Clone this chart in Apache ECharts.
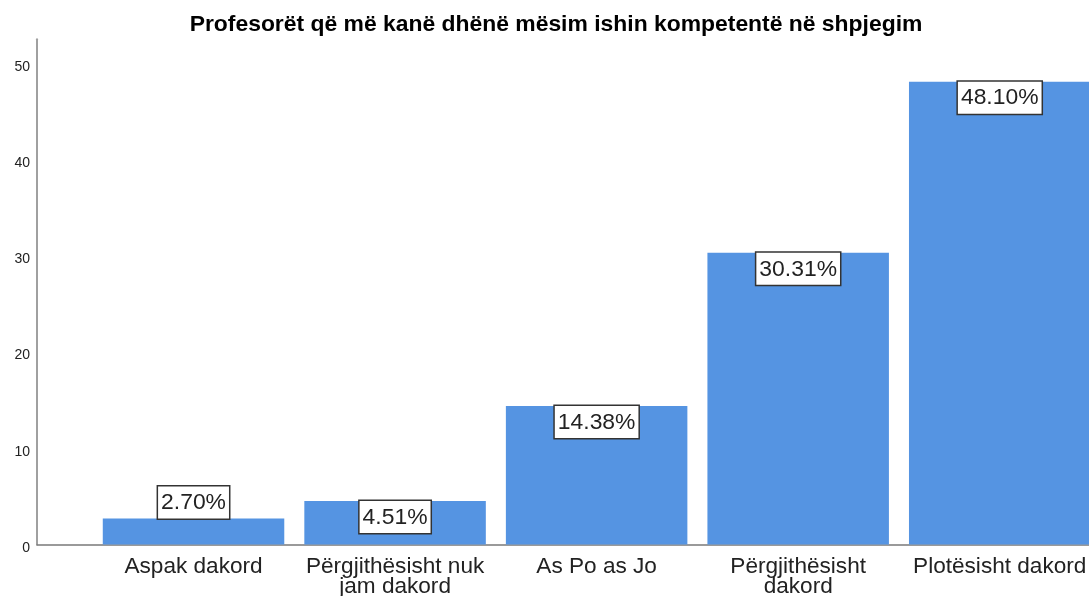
<!DOCTYPE html>
<html>
<head>
<meta charset="utf-8">
<script src="https://cdn.jsdelivr.net/npm/echarts@6/dist/echarts.min.js"></script>
<style>
html,body{margin:0;padding:0;background:#fff;}
#chart{width:1089px;height:596px;}
</style>
</head>
<body>
<div id="chart"></div>
<script>
const titleText = 'Profesorët që më kanë dhënë mësim ishin kompetentë në shpjegim';
const categories = ['Aspak dakord', 'Përgjithësisht nuk\njam dakord', 'As Po as Jo', 'Përgjithësisht\ndakord', 'Plotësisht dakord'];
const percentValues = [2.70, 4.51, 14.38, 30.31, 48.10];
const labelPositions = ['top', 'insideTop', 'insideTop', 'insideTop', 'insideTop'];

const FONT = "'Liberation Sans', Arial, sans-serif";
const yMax = 52.5;
const gridTop = 39.3, gridBottom = 51.5;

const chart = echarts.init(document.getElementById('chart'), null, {renderer: 'canvas'});
chart.setOption({
  backgroundColor: '#ffffff',
  animation: false,
  title: {
    text: titleText,
    left: 556,
    top: 13,
    padding: 0,
    textAlign: 'center',
    textStyle: {fontFamily: FONT, fontSize: 22.9, fontWeight: 'bold', color: '#000'}
  },
  grid: [
    {left: 92.75, width: 1007.75, top: gridTop, bottom: gridBottom, containLabel: false, outerBoundsMode: 'none'},
    {left: 37, right: 0, top: gridTop, bottom: gridBottom, containLabel: false, outerBoundsMode: 'none'}
  ],
  xAxis: [
    {
      type: 'category', gridIndex: 0, data: categories,
      axisLine: {show: false}, axisTick: {show: false},
      axisLabel: {fontFamily: FONT, fontSize: 22.6, color: '#222', lineHeight: 20, margin: 12, interval: 0}
    },
    {
      type: 'value', gridIndex: 1, min: 0, max: 1,
      axisLine: {show: true, lineStyle: {color: '#7a7a7a', width: 1.5}},
      axisTick: {show: false}, axisLabel: {show: false}, splitLine: {show: false}
    }
  ],
  yAxis: [
    {
      type: 'value', gridIndex: 0, min: 0, max: yMax, interval: 10, show: false,
      splitLine: {show: false}
    },
    {
      type: 'value', gridIndex: 1, min: 0, max: yMax, interval: 10,
      axisLine: {show: true, lineStyle: {color: '#a0a0a0', width: 2}},
      axisTick: {show: false}, splitLine: {show: false},
      axisLabel: {fontFamily: FONT, fontSize: 14, color: '#222', margin: 7, showMaxLabel: false,
        verticalAlign: 'top', lineHeight: 7,
        formatter: v => (v % 10 === 0 ? String(v) : '')}
    }
  ],
  series: [{
    type: 'bar',
    xAxisIndex: 0, yAxisIndex: 0,
    barWidth: 181.5,
    itemStyle: {color: '#5594E2'},
    data: percentValues.map((v, i) => ({
      value: v,
      label: {position: labelPositions[i]}
    })),
    label: {
      show: true,
      distance: 0,
      formatter: p => p.value.toFixed(2) + '%',
      fontFamily: FONT, fontSize: 22.9, color: '#222',
      backgroundColor: '#ffffff', borderColor: '#333', borderWidth: 1.5,
      padding: [5, 3, 4, 3]
    }
  }]
});
</script>
</body>
</html>
